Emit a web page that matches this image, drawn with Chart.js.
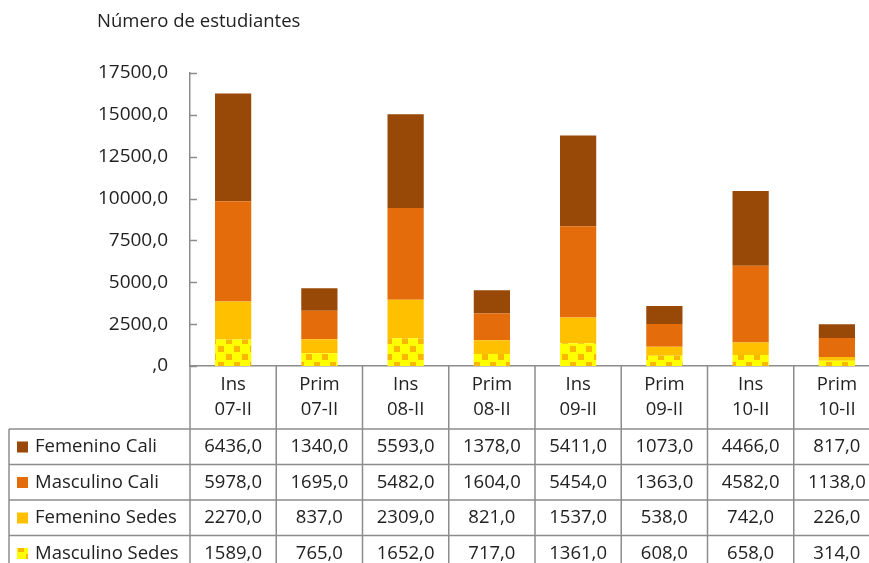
<!DOCTYPE html>
<html>
<head>
<meta charset="utf-8">
<script src="https://cdn.jsdelivr.net/npm/chart.js@4"></script>
<style>
  html, body { margin: 0; padding: 0; overflow: hidden; background: #fff; }
  canvas { display: block; }
</style>
</head>
<body>
<canvas id="grafico" width="882" height="563"></canvas>
<script>
// Datos
const categorias = [['Ins', '07-II'], ['Prim', '07-II'], ['Ins', '08-II'], ['Prim', '08-II'],
  ['Ins', '09-II'], ['Prim', '09-II'], ['Ins', '10-II'], ['Prim', '10-II']];
const femeninoCali = [6436, 1340, 5593, 1378, 5411, 1073, 4466, 817];
const masculinoCali = [5978, 1695, 5482, 1604, 5454, 1363, 4582, 1138];
const femeninoSedes = [2270, 837, 2309, 821, 1537, 538, 742, 226];
const masculinoSedes = [1589, 765, 1652, 717, 1361, 608, 658, 314];
const ejeYMax = 17500;
const ejeYPaso = 2500;
const tituloEje = 'Número de estudiantes';

const fuente = '"Open Sans", sans-serif';
const colorTexto = '#222222';
const colorLinea = '#8c8c8c';

const formatear = v => (v === 0 ? '' : String(v)) + ',0';

// Patrón amarillo para Masculino Sedes
function crearPatron() {
  const c = document.createElement('canvas');
  c.width = 16; c.height = 16;
  const g = c.getContext('2d');
  g.fillStyle = '#ffff00';
  g.fillRect(0, 0, 16, 16);
  g.fillStyle = '#f9b800';
  g.fillRect(2, 2, 6, 6);
  g.fillRect(10, 10, 6, 6);
  g.fillStyle = '#ffff00';
  g.beginPath(); g.arc(13, 5, 3.5, 0, Math.PI * 2); g.fill();
  g.beginPath(); g.arc(5, 13, 3.5, 0, Math.PI * 2); g.fill();
  return document.getElementById('grafico').getContext('2d').createPattern(c, 'repeat');
}
const patron = crearPatron();

const series = [
  { nombre: 'Masculino Sedes', datos: masculinoSedes, color: patron },
  { nombre: 'Femenino Sedes', datos: femeninoSedes, color: '#ffc000' },
  { nombre: 'Masculino Cali', datos: masculinoCali, color: '#e46c0a' },
  { nombre: 'Femenino Cali', datos: femeninoCali, color: '#984807' }
];

// Tabla de datos y detalles del eje
const pluginTabla = {
  id: 'tabla',
  afterDraw(chart) {
    const ctx = chart.ctx;
    const x = chart.scales.x;
    const y = chart.scales.y;
    const paso = x.getPixelForValue(1) - x.getPixelForValue(0);
    const base = y.getPixelForValue(0);
    const filas = [429, 464.5, 500, 535.5];
    const finTabla = 570;
    ctx.save();

    // título del eje
    ctx.fillStyle = colorTexto;
    ctx.font = '18.5px ' + fuente;
    ctx.textAlign = 'left';
    ctx.textBaseline = 'middle';
    ctx.fillText(tituloEje, 97, 22);

    // marcas internas del eje y
    ctx.strokeStyle = colorLinea;
    ctx.lineWidth = 1.5;
    y.ticks.forEach(t => {
      const py = Math.round(y.getPixelForValue(t.value)) + 0.5;
      ctx.beginPath(); ctx.moveTo(x.left, py); ctx.lineTo(x.left + 7, py); ctx.stroke();
    });

    // líneas de la tabla
    for (let i = 0; i <= categorias.length; i++) {
      const px = x.getPixelForValue(i) - paso / 2;
      ctx.beginPath(); ctx.moveTo(px, base); ctx.lineTo(px, finTabla); ctx.stroke();
    }
    ctx.beginPath(); ctx.moveTo(9, filas[0]); ctx.lineTo(9, finTabla); ctx.stroke();
    filas.forEach(fy => {
      ctx.beginPath(); ctx.moveTo(9, fy); ctx.lineTo(chart.width, fy); ctx.stroke();
    });

    // encabezados
    ctx.font = '18.5px ' + fuente;
    ctx.textAlign = 'center';
    categorias.forEach((cat, i) => {
      const px = x.getPixelForValue(i);
      ctx.fillText(cat[0], px, 385);
      ctx.fillText(cat[1], px, 410);
    });

    // filas (orden inverso a la pila)
    [...series].reverse().forEach((s, r) => {
      const cy = filas[r] + 18;
      ctx.fillStyle = s.color;
      ctx.fillRect(17, cy - 5.5, 11, 11);
      ctx.fillStyle = colorTexto;
      ctx.textAlign = 'left';
      ctx.fillText(s.nombre, 35, cy);
      ctx.textAlign = 'center';
      s.datos.forEach((v, i) => ctx.fillText(formatear(v), x.getPixelForValue(i), cy));
    });
    ctx.restore();
  }
};

new Chart(document.getElementById('grafico'), {
  type: 'bar',
  data: {
    labels: categorias.map(c => c.join(' ')),
    datasets: series.map(s => ({
      label: s.nombre,
      data: s.datos,
      backgroundColor: s.color,
      borderWidth: 0,
      barPercentage: 0.42,
      categoryPercentage: 1
    }))
  },
  options: {
    responsive: false,
    animation: false,
    layout: { padding: { top: 73, bottom: 197, left: 0, right: 2 } },
    plugins: { legend: { display: false }, tooltip: { enabled: false } },
    scales: {
      x: {
        stacked: true,
        ticks: { display: false },
        grid: { display: false },
        border: { display: true, color: colorLinea, width: 1.5 },
        afterFit: s => { s.height = 0; }
      },
      y: {
        stacked: true,
        min: 0, max: ejeYMax,
        ticks: {
          stepSize: ejeYPaso,
          padding: 14,
          color: colorTexto,
          font: { family: fuente, size: 19 },
          callback: v => formatear(v)
        },
        grid: { display: false },
        border: { display: true, color: colorLinea, width: 1.5 },
        afterFit: s => { s.width = 190; }
      }
    }
  },
  plugins: [pluginTabla]
});
</script>
</body>
</html>
